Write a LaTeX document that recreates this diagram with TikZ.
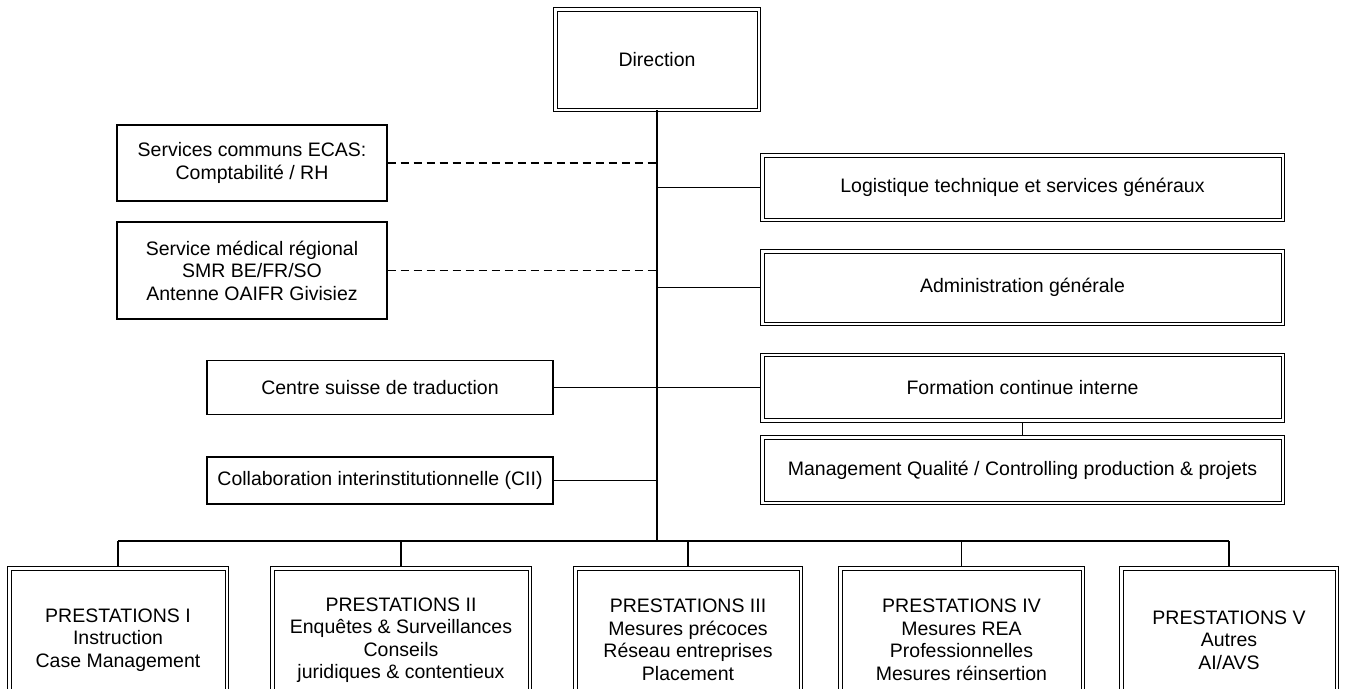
\documentclass[tikz,border=0pt]{standalone}
\usepackage{fontspec}
\setmainfont{Liberation Sans}
\begin{document}
\begin{tikzpicture}[x=1pt, y=-1pt,
    box/.style={draw, line width=1.2pt, inner sep=2pt, align=center, font=\fontsize{19.5}{22.5}\selectfont},
    dbox/.style={box, line width=1pt, double, double distance=2.5pt},
    link/.style={line width=1.1pt},
    trunk/.style={line width=2pt},
    dashlink/.style={line width=1.2pt, dash pattern=on 8pt off 5pt}]
    \useasboundingbox (0,0) rectangle (1346,688);

    \node[dbox, minimum width=203.5pt, minimum height=100.5pt] (Dir) at (657,59.5) {Direction};

    \node[box, minimum width=270pt, minimum height=76pt] (SC) at (252,163) {Services communs ECAS:\\Comptabilité / RH};
    \node[box, minimum width=270pt, minimum height=97pt] (SMR) at (252,270.5) {Service médical régional\\SMR BE/FR/SO\\Antenne OAIFR Givisiez};
    \node[box, minimum width=346pt, minimum height=54pt] (CST) at (380,387.5) {Centre suisse de traduction};
    \node[box, minimum width=346pt, minimum height=47pt] (CII) at (380,480.5) {Collaboration interinstitutionnelle (CII)};

    \node[dbox, minimum width=520.5pt, minimum height=64.5pt] (LTS) at (1022.5,187.5) {Logistique technique et services généraux};
    \node[dbox, minimum width=520.5pt, minimum height=72.5pt] (AG) at (1022.5,287.5) {Administration générale};
    \node[dbox, minimum width=520.5pt, minimum height=65.5pt] (FCI) at (1022.5,387.5) {Formation continue interne};
    \node[dbox, minimum width=520.5pt, minimum height=65.5pt] (MQ) at (1022.5,470) {Management Qualité / Controlling production \& projets};

    \node[dbox, minimum width=217.5pt, minimum height=143.5pt] (P1) at (118,640) {PRESTATIONS I\\Instruction\\Case Management};
    \node[dbox, minimum width=257.5pt, minimum height=143.5pt] (P2) at (401,640) {PRESTATIONS II\\Enquêtes \& Surveillances\\Conseils\\juridiques \& contentieux};
    \node[dbox, minimum width=225.5pt, minimum height=143.5pt] (P3) at (688,640) {PRESTATIONS III\\Mesures précoces\\Réseau entreprises\\Placement};
    \node[dbox, minimum width=242.5pt, minimum height=143.5pt] (P4) at (961.5,640) {PRESTATIONS IV\\Mesures REA\\Professionnelles\\Mesures réinsertion};
    \node[dbox, minimum width=215.5pt, minimum height=143.5pt] (P5) at (1229,640) {PRESTATIONS V\\Autres\\AI/AVS};

    \coordinate (Bus) at (657,541);

    \draw[trunk] (Dir.south) -- (Bus);
    \draw[trunk] (P1.north |- Bus) -- (P5.north |- Bus);
    \foreach \p in {P1,P2,P3,P4,P5}
        \draw[link, shorten >=2.2pt] (\p.north |- Bus) -- (\p.north);

    \draw[dashlink] (SC.east) -- (SC.east -| Dir.south);
    \draw[dashlink] (SMR.east) -- (SMR.east -| Dir.south);
    \draw[link] (CII.east) -- (CII.east -| Dir.south);
    \draw[link, shorten >=2.2pt] (CST.east) -- (CST.east -| FCI.west);
    \draw[link, shorten >=2.2pt] (LTS.west -| Dir.south) -- (LTS.west);
    \draw[link, shorten >=2.2pt] (AG.west -| Dir.south) -- (AG.west);
    \draw[link, shorten <=2.2pt, shorten >=2.2pt] (FCI.south) -- (MQ.north);
\end{tikzpicture}
\end{document}
